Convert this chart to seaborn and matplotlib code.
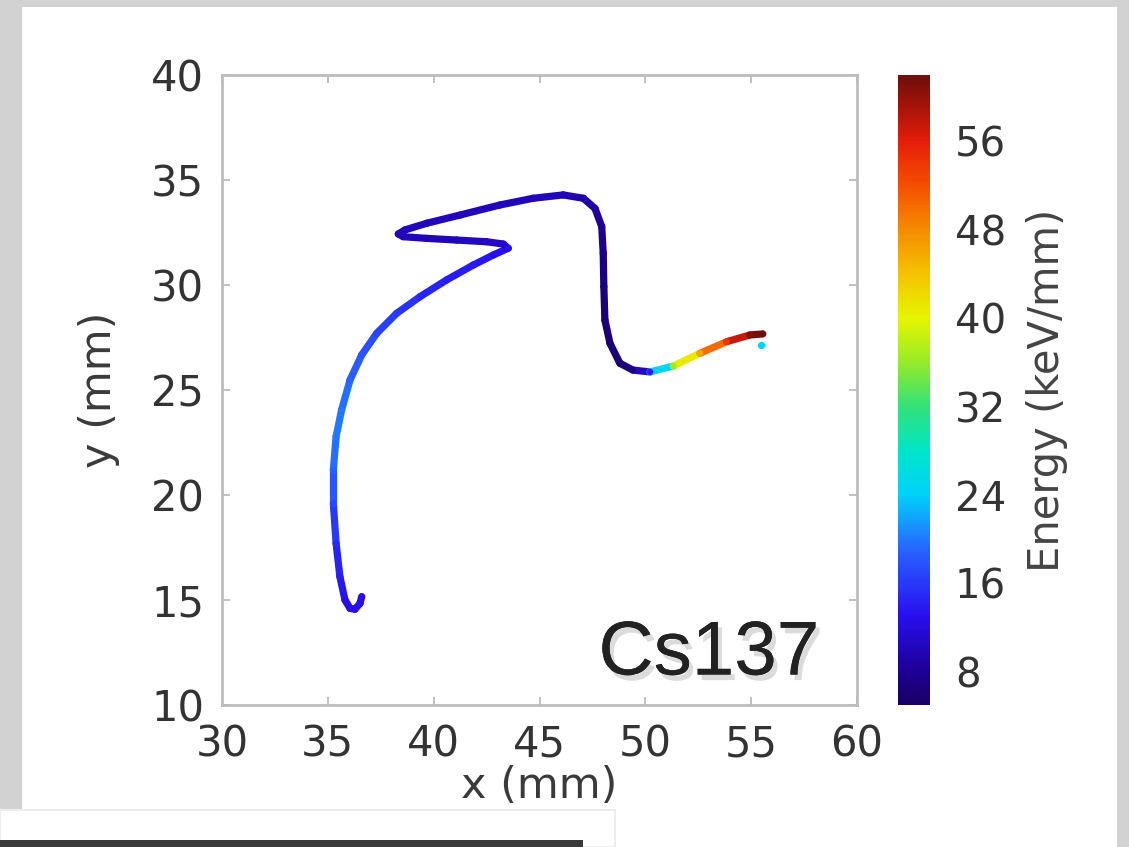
import numpy as np
import pandas as pd
import matplotlib
matplotlib.use('Agg')
import matplotlib.pyplot as plt
import matplotlib.patheffects as pe
from matplotlib.collections import LineCollection
from matplotlib.colors import LinearSegmentedColormap
from matplotlib.patches import Rectangle
import seaborn as sns

# Track points (mm) and deposited energy (keV/mm)
track_x = [36.60, 36.52, 36.28, 36.05, 35.81, 35.57, 35.39, 35.26, 35.26, 35.39,
           35.65, 36.05, 36.60, 37.31, 38.25, 39.35, 40.61, 41.87, 42.82, 43.52,
           43.29, 42.50, 41.09, 39.67, 38.56, 38.33, 38.64, 39.67, 41.24, 43.13,
           44.70, 46.12, 47.07, 47.62, 47.94, 48.01, 48.04, 48.09, 48.33, 48.80,
           49.41, 50.22, 51.32, 52.58, 53.84, 54.94, 55.55]
track_y = [15.16, 14.84, 14.56, 14.60, 15.00, 16.11, 17.70, 19.60, 21.19, 22.78,
           24.05, 25.48, 26.67, 27.70, 28.65, 29.44, 30.24, 30.95, 31.43, 31.75,
           31.95, 32.06, 32.14, 32.22, 32.30, 32.43, 32.62, 32.94, 33.33, 33.81,
           34.13, 34.29, 34.13, 33.65, 32.78, 31.51, 29.92, 28.33, 27.22, 26.27,
           25.95, 25.86, 26.14, 26.75, 27.30, 27.62, 27.67]
energy = [13, 13, 13, 13, 13, 14, 15, 17, 19, 20,
          20, 19, 18, 17, 16, 15, 14, 14, 13, 13,
          11, 11, 10, 10, 10, 10, 10, 10, 10, 10,
          10, 10, 9, 9, 8, 7, 7, 6, 6, 6,
          7, 14, 36, 46, 54, 61, 62]
# isolated hit at the end of the track
hit_x = [55.45]
hit_y = [27.15]
hit_e = [24]

e_min, e_max = 5, 62
cbar_ticks = [8, 16, 24, 32, 40, 48, 56]

# colour scale sampled from the reference colour bar (a jet-like map)
cmap_levels = [5, 8, 13, 19, 24, 28, 32, 36, 40, 44, 48, 52, 56, 59, 62]
cmap_colors = ['#190064', '#1e0096', '#280ff0', '#2864ff', '#00d2fa', '#00e6c8',
               '#32e178', '#96eb28', '#e6f500', '#f5c300', '#f58c00', '#f55000',
               '#e61e0a', '#aa140a', '#6e0f0a']

sns.set_theme(style='white')
plt.rcParams['font.family'] = ['DejaVu Sans']

fig = plt.figure(figsize=(11.29, 8.47), dpi=100)
fig.patch.set_facecolor('#d2d2d2')

W, H = 1129, 847
def fx(px): return px / W
def fy(py): return 1 - py / H

# screenshot panels behind the chart
fig.patches.append(Rectangle((fx(22), 0), fx(1117) - fx(22), fy(7), transform=fig.transFigure,
                             facecolor='white', edgecolor='none', zorder=-3))
fig.patches.append(Rectangle((0, 0), fx(615), fy(810), transform=fig.transFigure,
                             facecolor='white', edgecolor='#ececec', lw=1.5, zorder=-2))
fig.patches.append(Rectangle((0, 0), fx(583), fy(840), transform=fig.transFigure,
                             facecolor='#3a3a3a', edgecolor='none', zorder=-1))

ax = fig.add_axes([fx(222), fy(705), fx(857) - fx(222), fy(75) - fy(705)])
cax = fig.add_axes([fx(898), fy(705), fx(930) - fx(898), fy(75) - fy(705)])

df = pd.DataFrame({'x': track_x, 'y': track_y, 'energy': energy})
norm = plt.Normalize(e_min, e_max)
cmap = LinearSegmentedColormap.from_list(
    'track', [((v - e_min) / (e_max - e_min), c) for v, c in zip(cmap_levels, cmap_colors)])

pts = np.column_stack([df['x'], df['y']])
segs = np.stack([pts[:-1], pts[1:]], axis=1)
seg_e = (df['energy'].values[:-1] + df['energy'].values[1:]) / 2
lc = LineCollection(segs, cmap=cmap, norm=norm, linewidths=5.2, capstyle='round', joinstyle='round')
lc.set_array(seg_e)
ax.add_collection(lc)

sns.scatterplot(data=df, x='x', y='y', hue='energy', palette=cmap, hue_norm=norm,
                s=22, linewidth=0, legend=False, ax=ax, zorder=3)
sns.scatterplot(x=hit_x, y=hit_y, hue=hit_e, palette=cmap, hue_norm=norm,
                s=28, linewidth=0, legend=False, ax=ax, zorder=4)

ax.set_xlim(30, 60)
ax.set_ylim(10, 40)
ax.set_xticks(range(30, 61, 5))
ax.set_yticks(range(10, 41, 5))
ax.set_xlabel('x (mm)', fontsize=31, color='#3a3a3a', labelpad=0)
ax.set_ylabel('y (mm)', fontsize=31, color='#3a3a3a', labelpad=22)
ax.tick_params(axis='both', which='both', direction='in', length=6, width=1.2, color='#b5b5b5',
               labelsize=30, labelcolor='#333333', pad=13, top=True, right=True,
               bottom=True, left=True)
for s in ax.spines.values():
    s.set_color('#bdbdbd')
    s.set_linewidth(2)
ax.set_facecolor('white')

ax.text(53.0, 11.45, 'Cs137', fontsize=55, family=['Liberation Sans', 'DejaVu Sans'],
        ha='center', va='baseline', color='#222222',
        path_effects=[pe.withSimplePatchShadow(offset=(3, -4), shadow_rgbFace='#9a9a9a', alpha=0.35),
                      pe.Normal()])

sm = plt.cm.ScalarMappable(cmap=cmap, norm=norm)
cb = fig.colorbar(sm, cax=cax, ticks=cbar_ticks)
cb.outline.set_visible(False)
cax.tick_params(length=0, labelsize=29, labelcolor='#333333', pad=18)
cb.set_label('Energy (keV/mm)', fontsize=30, color='#444444', labelpad=14)

fig.savefig('out.png', dpi=100, facecolor=fig.get_facecolor())
